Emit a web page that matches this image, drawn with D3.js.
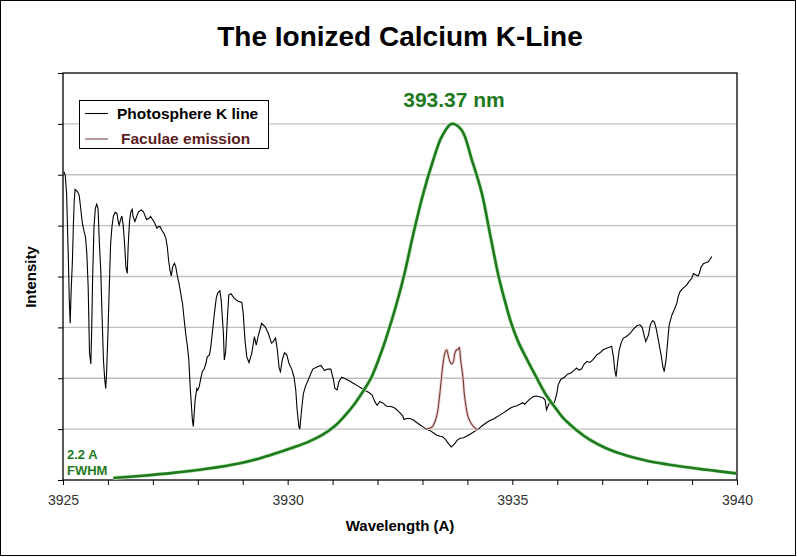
<!DOCTYPE html>
<html>
<head>
<meta charset="utf-8">
<script src="https://cdn.jsdelivr.net/npm/d3@7"></script>
<style>
  body { margin: 0; background: #fff; }
  svg { display: block; font-family: "Liberation Sans", Arial, sans-serif; }
</style>
</head>
<body>
<svg id="chart" width="797" height="557"></svg>
<script>
// photosphere spectrum (wavelength in A, intensity in grid units)
var photoWave = [3925.02,3925.05,3925.08,3925.12,3925.14,3925.16,3925.18,3925.21,3925.23,3925.25,
  3925.27,3925.32,3925.36,3925.39,3925.43,3925.47,3925.50,3925.53,3925.56,3925.59,
  3925.62,3925.64,3925.66,3925.69,3925.72,3925.75,3925.78,3925.81,3925.84,3925.87,
  3925.90,3925.93,3925.95,3925.97,3926.00,3926.03,3926.06,3926.09,3926.12,3926.16,
  3926.20,3926.23,3926.25,3926.28,3926.31,3926.34,3926.37,3926.40,3926.43,3926.45,
  3926.48,3926.51,3926.54,3926.56,3926.60,3926.64,3926.68,3926.74,3926.79,3926.82,
  3926.86,3926.91,3926.95,3927.00,3927.04,3927.09,3927.12,3927.16,3927.20,3927.25,
  3927.29,3927.32,3927.35,3927.38,3927.41,3927.44,3927.48,3927.51,3927.54,3927.58,
  3927.62,3927.66,3927.69,3927.73,3927.77,3927.80,3927.83,3927.86,3927.88,3927.90,
  3927.92,3927.94,3927.98,3928.00,3928.03,3928.06,3928.10,3928.14,3928.18,3928.21,
  3928.26,3928.29,3928.33,3928.37,3928.41,3928.44,3928.49,3928.52,3928.55,3928.57,
  3928.59,3928.62,3928.66,3928.69,3928.74,3928.81,3928.89,3928.98,3929.01,3929.05,
  3929.09,3929.14,3929.20,3929.26,3929.30,3929.35,3929.42,3929.50,3929.57,3929.64,
  3929.68,3929.73,3929.77,3929.81,3929.84,3929.88,3929.93,3929.98,3930.03,3930.09,
  3930.14,3930.18,3930.21,3930.25,3930.27,3930.31,3930.35,3930.40,3930.46,3930.52,
  3930.56,3930.65,3930.74,3930.82,3930.89,3930.96,3931.02,3931.05,3931.10,3931.14,
  3931.20,3931.28,3931.37,3931.46,3931.56,3931.65,3931.72,3931.81,3931.88,3931.94,
  3931.99,3932.05,3932.11,3932.20,3932.32,3932.39,3932.43,3932.50,3932.56,3932.59,
  3932.65,3932.72,3932.80,3932.87,3932.95,3933.02,3933.09,3933.17,3933.24,3933.32,
  3933.39,3933.45,3933.50,3933.55,3933.60,3933.64,3933.69,3933.73,3933.78,3933.84,
  3933.91,3933.98,3934.06,3934.13,3934.21,3934.28,3934.35,3934.43,3934.50,3934.58,
  3934.65,3934.73,3934.80,3934.87,3934.95,3935.02,3935.10,3935.17,3935.23,3935.28,
  3935.33,3935.39,3935.47,3935.54,3935.62,3935.69,3935.73,3935.76,3935.80,3935.84,
  3935.88,3935.91,3935.95,3935.99,3936.02,3936.08,3936.16,3936.23,3936.31,3936.38,
  3936.43,3936.48,3936.54,3936.60,3936.66,3936.73,3936.80,3936.88,3936.95,3937.02,
  3937.10,3937.16,3937.21,3937.25,3937.28,3937.31,3937.34,3937.38,3937.42,3937.47,
  3937.54,3937.62,3937.69,3937.77,3937.84,3937.89,3937.94,3937.97,3938.03,3938.07,
  3938.12,3938.16,3938.20,3938.25,3938.31,3938.35,3938.38,3938.42,3938.46,3938.49,
  3938.55,3938.60,3938.66,3938.69,3938.73,3938.80,3938.88,3938.93,3938.99,3939.03,
  3939.07,3939.13,3939.16,3939.20,3939.25,3939.30,3939.36,3939.40,3939.44];
var photoInt = [6.06,5.99,5.64,4.32,3.54,3.08,3.68,4.32,4.98,5.50,
  5.71,5.67,5.60,5.37,5.05,4.88,4.78,4.46,3.80,2.50,
  2.28,3.01,4.00,4.98,5.34,5.42,5.34,4.65,4.13,3.21,
  2.36,1.97,1.80,2.10,2.88,3.80,4.65,4.98,5.18,5.26,
  5.24,5.08,5.01,5.11,5.19,5.01,4.65,4.19,4.06,4.59,
  5.08,5.27,5.32,5.18,5.08,5.18,5.27,5.31,5.27,5.21,
  5.12,5.14,5.18,5.11,5.05,4.95,4.98,4.98,4.91,4.84,
  4.75,4.59,4.32,4.13,4.01,4.19,4.26,4.19,4.03,3.87,
  3.67,3.47,3.21,2.88,2.62,2.36,1.83,1.44,1.18,1.05,
  1.31,1.57,1.80,1.77,1.83,1.97,2.13,2.18,2.29,2.42,
  2.46,2.62,2.95,3.28,3.57,3.67,3.72,3.54,3.14,2.88,
  2.36,2.52,3.21,3.64,3.66,3.57,3.52,3.49,3.28,2.75,
  2.42,2.31,2.49,2.82,2.65,2.85,3.08,3.01,2.88,2.69,
  2.72,2.79,2.56,2.20,2.13,2.36,2.50,2.46,2.29,2.18,
  2.03,1.77,1.38,1.05,1.00,1.38,1.70,1.85,1.97,2.10,
  2.18,2.22,2.25,2.15,2.18,2.18,1.97,1.80,1.77,1.93,
  2.02,1.99,1.95,1.90,1.85,1.80,1.76,1.72,1.67,1.54,
  1.47,1.54,1.52,1.45,1.44,1.41,1.38,1.32,1.26,1.19,
  1.21,1.21,1.18,1.13,1.08,1.04,1.00,0.97,0.93,0.88,
  0.86,0.85,0.81,0.75,0.69,0.65,0.69,0.73,0.79,0.82,
  0.83,0.86,0.90,0.94,0.98,1.03,1.08,1.13,1.17,1.20,
  1.24,1.28,1.32,1.36,1.41,1.44,1.46,1.49,1.52,1.49,
  1.54,1.59,1.64,1.65,1.63,1.61,1.57,1.38,1.47,1.54,
  1.51,1.47,1.57,1.70,1.87,1.98,2.02,2.08,2.11,2.16,
  2.20,2.16,2.18,2.28,2.33,2.31,2.37,2.46,2.50,2.56,
  2.59,2.61,2.63,2.42,2.16,2.03,2.29,2.56,2.69,2.79,
  2.82,2.88,2.96,3.03,3.05,3.00,2.82,2.72,2.85,3.05,
  3.13,3.11,2.98,2.75,2.46,2.23,2.13,2.36,2.75,3.05,
  3.24,3.34,3.47,3.60,3.70,3.77,3.83,3.90,3.96,4.06,
  4.04,4.01,4.06,4.18,4.25,4.27,4.29,4.34,4.39];

// faculae emission core
var faculaeWave = [3933.09,3933.17,3933.23,3933.28,3933.33,3933.37,3933.41,3933.44,3933.47,3933.50,
  3933.54,3933.57,3933.61,3933.65,3933.69,3933.72,3933.76,3933.80,3933.82,3933.85,
  3933.90,3933.93,3933.97,3934.01,3934.07,3934.15,3934.22];
var faculaeInt = [1.00,1.02,1.06,1.15,1.31,1.57,1.90,2.16,2.36,2.50,
  2.56,2.46,2.33,2.28,2.33,2.49,2.56,2.57,2.61,2.36,
  2.03,1.70,1.44,1.26,1.13,1.04,0.98];

// green 2.2 A FWHM filter profile
var filterWave = [3926.12,3926.71,3927.45,3928.20,3928.94,3929.35,3929.72,3930.09,3930.46,3930.76,
  3931.05,3931.28,3931.50,3931.72,3931.87,3932.02,3932.17,3932.28,3932.39,3932.59,
  3932.80,3933.02,3933.24,3933.43,3933.65,3933.87,3934.10,3934.32,3934.50,3934.69,
  3934.84,3934.97,3935.13,3935.32,3935.54,3935.76,3935.99,3936.13,3936.43,3936.73,
  3937.10,3937.54,3937.99,3938.43,3938.88,3939.33,3939.98];
var filterInt = [0.04,0.08,0.14,0.22,0.33,0.42,0.52,0.63,0.75,0.88,
  1.06,1.27,1.51,1.80,2.03,2.36,2.73,3.04,3.36,4.02,
  4.85,5.64,6.29,6.75,7.00,6.88,6.29,5.64,4.85,4.02,
  3.50,3.10,2.72,2.38,2.01,1.66,1.38,1.22,0.98,0.79,
  0.62,0.48,0.38,0.31,0.25,0.20,0.13];

var xTickLabels = [3925, 3930, 3935, 3940];
var legendNames = ["Photosphere K line", "Faculae emission"];

var svg = d3.select("#chart");
// note: "top" is taken by window.top, so use plot* names
var plotLeft = 63, plotRight = 737, plotTop = 73, plotBottom = 480;

var x = d3.scaleLinear().domain([3925, 3940]).range([plotLeft, plotRight]);
var y = d3.scaleLinear().domain([0, 8]).range([plotBottom, plotTop]);

// outer border of the picture
svg.append("rect")
  .attr("x", 0.5).attr("y", 0.5)
  .attr("width", 795).attr("height", 555)
  .attr("fill", "#fff").attr("stroke", "#000");

// grid lines
svg.append("g").selectAll("line")
  .data(d3.range(1, 8))
  .enter().append("line")
  .attr("x1", plotLeft).attr("x2", plotRight)
  .attr("y1", function (d) { return y(d); })
  .attr("y2", function (d) { return y(d); })
  .attr("stroke", "#c0c0c0")
  .attr("stroke-width", 1.3);

// axes
var xAxis = d3.axisBottom(x)
  .tickValues(d3.range(3925, 3941))
  .tickSize(5)
  .tickPadding(10)
  .tickFormat(function (d) {
    return xTickLabels.indexOf(d) >= 0 ? d : "";
  });
var gx = svg.append("g").attr("transform", "translate(0," + plotBottom + ")").call(xAxis);
gx.select(".domain").remove();
gx.selectAll("text")
  .attr("font-size", 14)
  .attr("font-family", "Liberation Sans, Arial, sans-serif")
  .attr("fill", "#333");

var yAxis = d3.axisLeft(y).tickValues(d3.range(0, 9)).tickSize(5).tickFormat("");
var gy = svg.append("g").attr("transform", "translate(" + plotLeft + ",0)").call(yAxis);
gy.select(".domain").remove();

// frame
svg.append("rect")
  .attr("x", plotLeft).attr("y", plotTop)
  .attr("width", plotRight - plotLeft).attr("height", plotBottom - plotTop)
  .attr("fill", "none").attr("stroke", "#000").attr("stroke-width", 1.3);

var photo = d3.zip(photoWave, photoInt);
var faculae = d3.zip(faculaeWave, faculaeInt);
var filter = d3.zip(filterWave, filterInt);

var line = d3.line()
  .x(function (d) { return x(d[0]); })
  .y(function (d) { return y(d[1]); });

var smooth = d3.line()
  .curve(d3.curveCatmullRom)
  .x(function (d) { return x(d[0]); })
  .y(function (d) { return y(d[1]); });

svg.append("path")
  .datum(photo)
  .attr("d", line)
  .attr("fill", "none")
  .attr("stroke", "#000")
  .attr("stroke-width", 1.1);

svg.append("path")
  .datum(faculae)
  .attr("d", smooth)
  .attr("fill", "none")
  .attr("stroke", "#f3d3d0")
  .attr("stroke-width", 3);
svg.append("path")
  .datum(faculae)
  .attr("d", smooth)
  .attr("fill", "none")
  .attr("stroke", "#6e3b3b")
  .attr("stroke-width", 1.1);

// filter curve with a light halo
svg.append("path")
  .datum(filter)
  .attr("d", smooth)
  .attr("fill", "none")
  .attr("stroke", "#c4eabc")
  .attr("stroke-width", 4);
svg.append("path")
  .datum(filter)
  .attr("d", smooth)
  .attr("fill", "none")
  .attr("stroke", "#1f7a1f")
  .attr("stroke-width", 2.6);

// texts
svg.append("text")
  .attr("x", 400).attr("y", 46)
  .attr("text-anchor", "middle")
  .attr("font-size", 28).attr("font-weight", "bold")
  .text("The Ionized Calcium K-Line");

svg.append("text")
  .attr("x", 454).attr("y", 106.5)
  .attr("text-anchor", "middle")
  .attr("font-size", 21).attr("font-weight", "bold")
  .attr("fill", "#1f7a1f")
  .text("393.37 nm");

svg.append("text")
  .attr("x", 67).attr("y", 459)
  .attr("font-size", 13).attr("font-weight", "bold")
  .attr("fill", "#1f7a1f")
  .text("2.2 A");
svg.append("text")
  .attr("x", 67).attr("y", 475)
  .attr("font-size", 13).attr("font-weight", "bold")
  .attr("fill", "#1f7a1f")
  .text("FWHM");

svg.append("text")
  .attr("transform", "translate(36,277) rotate(-90)")
  .attr("text-anchor", "middle")
  .attr("font-size", 15).attr("font-weight", "bold")
  .text("Intensity");

svg.append("text")
  .attr("x", 400).attr("y", 531)
  .attr("text-anchor", "middle")
  .attr("font-size", 15).attr("font-weight", "bold")
  .text("Wavelength (A)");

// legend
var legend = svg.append("g");
legend.append("rect")
  .attr("x", 79.5).attr("y", 100.5)
  .attr("width", 189).attr("height", 48)
  .attr("fill", "#fff").attr("stroke", "#000");

var legendColors = ["#000", "#7a4545"];
var legendText = ["#000", "#5a1e1e"];
var legendY = [113.5, 139];
legendNames.forEach(function (name, i) {
  legend.append("line")
    .attr("x1", 85).attr("x2", 108)
    .attr("y1", legendY[i]).attr("y2", legendY[i])
    .attr("stroke", legendColors[i]).attr("stroke-width", 1.1);
  legend.append("text")
    .attr("x", i == 0 ? 117 : 121).attr("y", legendY[i] + 5)
    .attr("font-size", 15.5).attr("font-weight", "bold")
    .attr("fill", legendText[i])
    .text(name);
});
</script>
</body>
</html>
